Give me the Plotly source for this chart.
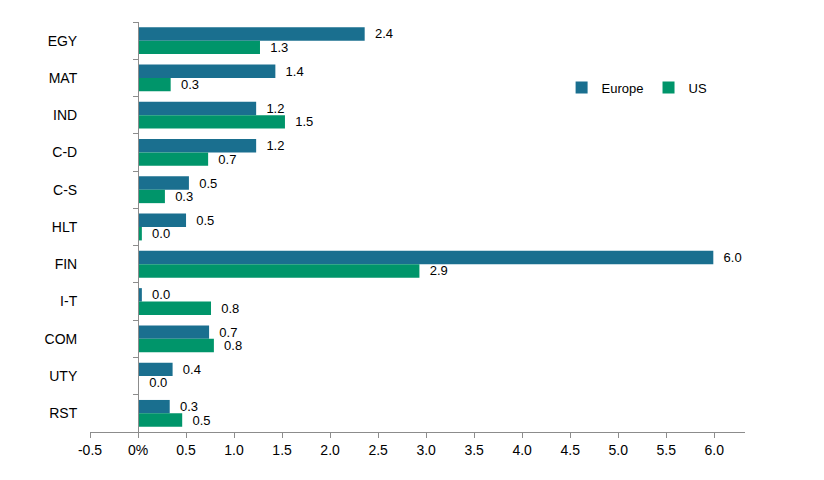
import plotly.graph_objects as go

categories = ["EGY", "MAT", "IND", "C-D", "C-S", "HLT", "FIN", "I-T", "COM", "UTY", "RST"]
europe = [2.36, 1.43, 1.23, 1.23, 0.53, 0.50, 5.99, 0.04, 0.74, 0.36, 0.33]
us = [1.27, 0.34, 1.53, 0.73, 0.28, 0.04, 2.93, 0.76, 0.79, 0.01, 0.46]
tick_vals = [-0.5, 0, 0.5, 1.0, 1.5, 2.0, 2.5, 3.0, 3.5, 4.0, 4.5, 5.0, 5.5, 6.0]
tick_text = ["-0.5", "0%", "0.5", "1.0", "1.5", "2.0", "2.5", "3.0", "3.5", "4.0", "4.5", "5.0", "5.5", "6.0"]

FONT = "Liberation Sans Narrow, Liberation Sans, Arial, sans-serif"
xmin, xmax = -0.5, 6.32

fig = go.Figure()
fig.add_trace(go.Bar(y=categories, x=europe, name="Europe", orientation="h",
                     marker=dict(color="#1A6F8F", line=dict(width=0)),
                     texttemplate="  %{x:.1f}", constraintext="none",
                     textposition="outside", cliponaxis=False,
                     textfont=dict(size=13, color="#000000")))
fig.add_trace(go.Bar(y=categories, x=us, name="US", orientation="h",
                     marker=dict(color="#00956A", line=dict(width=0)),
                     texttemplate="  %{x:.1f}", constraintext="none",
                     textposition="outside", cliponaxis=False,
                     textfont=dict(size=13, color="#000000")))

dom = [0, 1]
pos = dom[0] + (0 - xmin) / (xmax - xmin) * (dom[1] - dom[0])

fig.update_layout(
    width=824, height=480,
    margin=dict(l=82, r=87, t=14, b=56),
    paper_bgcolor="white", plot_bgcolor="white",
    barmode="group", bargap=0.28, bargroupgap=0,
    font=dict(family=FONT, size=14, color="#000000"),
    showlegend=True,
    legend=dict(orientation="h", x=0.72, y=0.84, xanchor="left", yanchor="middle",
                font=dict(size=13), bgcolor="rgba(0,0,0,0)"),
    xaxis=dict(range=[xmin, xmax], tickvals=tick_vals, ticktext=tick_text,
               showgrid=False, zeroline=False, showline=True, linecolor="#8C8C8C",
               linewidth=1, ticks="outside", ticklen=5, tickcolor="#8C8C8C",
               tickfont=dict(size=14), automargin=False, fixedrange=True),
    yaxis=dict(autorange="reversed", anchor="free", position=pos,
               showgrid=False, zeroline=False, showline=True, linecolor="#8C8C8C",
               linewidth=1, ticks="outside", ticklen=5, tickcolor="#8C8C8C",
               tickson="boundaries", ticklabelstandoff=58, automargin=False,
               tickfont=dict(size=14)),
)

fig.write_html("out.html")
